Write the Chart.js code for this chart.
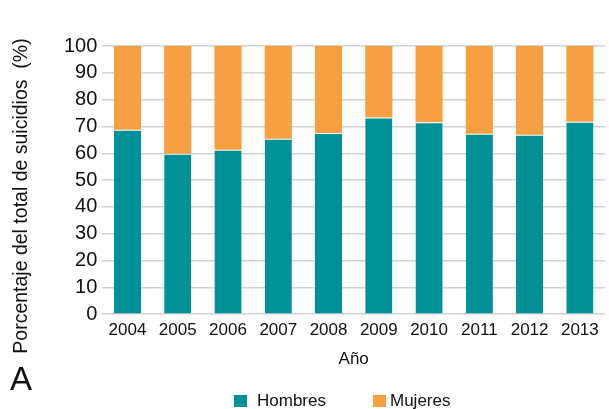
<html>
<head>
    <title>Suicidios por sexo</title>
    <script src="https://cdn.jsdelivr.net/npm/chart.js"></script>
    <style>
        body {
            margin: 0;
            background: white;
            font-family: "Liberation Sans", Arial, sans-serif;
            color: #111;
        }

        .wrap {
            position: relative;
            width: 609px;
            height: 409px;
            overflow: hidden;
        }

        .panel-label {
            position: absolute;
            left: 10px;
            top: 362px;
            font-size: 33px;
            line-height: 1;
        }

        .y-title {
            position: absolute;
            left: 21px;
            top: 196px;
            transform: translate(-50%, -50%) rotate(-90deg);
            white-space: nowrap;
            font-size: 19.5px;
            line-height: 1;
        }

        .legend-item {
            position: absolute;
            top: 392px;
            font-size: 17px;
            line-height: 18px;
            white-space: nowrap;
        }

        .legend-item span {
            display: inline-block;
            width: 13px;
            height: 12px;
            vertical-align: -1px;
            margin-right: 10px;
        }
    </style>
</head>

<body>
    <div class="wrap">
        <canvas id="barChart" width="609" height="409"></canvas>
        <div class="y-title">Porcentaje del total de suicidios&nbsp; (%)</div>
        <div class="panel-label">A</div>
        <div class="legend-item" style="left: 234px;"><span style="background:#009097;"></span>Hombres</div>
        <div class="legend-item" style="left: 373px;"><span style="background:#F6A042; margin-right: 4px;"></span>Mujeres</div>
    </div>

    <script>
        var years = ["2004", "2005", "2006", "2007", "2008", "2009", "2010", "2011", "2012", "2013"];
        var hombres = [68.8, 59.8, 61.3, 65.4, 67.6, 73.3, 71.6, 67.3, 66.9, 71.8];
        var mujeres = [31.2, 40.2, 38.7, 34.6, 32.4, 26.7, 28.4, 32.7, 33.1, 28.2];

        Chart.defaults.font.family = '"Liberation Sans", Arial, sans-serif';
        Chart.defaults.color = "#111";

        var ctx = document.getElementById("barChart").getContext("2d");
        new Chart(ctx, {
            type: "bar",
            data: {
                labels: years,
                datasets: [
                    {
                        label: "Hombres", data: hombres, backgroundColor: "#009097",
                        borderColor: "#ffffff", borderWidth: { top: 1, left: 0, right: 0, bottom: 0 }, borderSkipped: false
                    },
                    { label: "Mujeres", data: mujeres, backgroundColor: "#F6A042", borderWidth: 0 }
                ]
            },
            options: {
                responsive: false,
                animation: false,
                layout: { padding: { left: 59, right: 4, top: 46, bottom: 34 } },
                datasets: { bar: { categoryPercentage: 1, barPercentage: 0.54 } },
                plugins: {
                    legend: { display: false },
                    tooltip: { enabled: false }
                },
                scales: {
                    x: {
                        stacked: true,
                        grid: { display: false, drawTicks: false },
                        border: { display: false },
                        ticks: { font: { size: 17 }, padding: 6, autoSkip: false, maxRotation: 0 },
                        title: { display: true, text: "Año", font: { size: 17 }, padding: { top: 3, bottom: 5 } }
                    },
                    y: {
                        stacked: true,
                        min: 0,
                        max: 100,
                        ticks: { stepSize: 10, font: { size: 20 }, padding: 5, autoSkip: false },
                        grid: { color: "#d2d2d2", lineWidth: 1.5, drawTicks: false },
                        border: { display: false }
                    }
                }
            }
        });
    </script>
</body>
</html>
